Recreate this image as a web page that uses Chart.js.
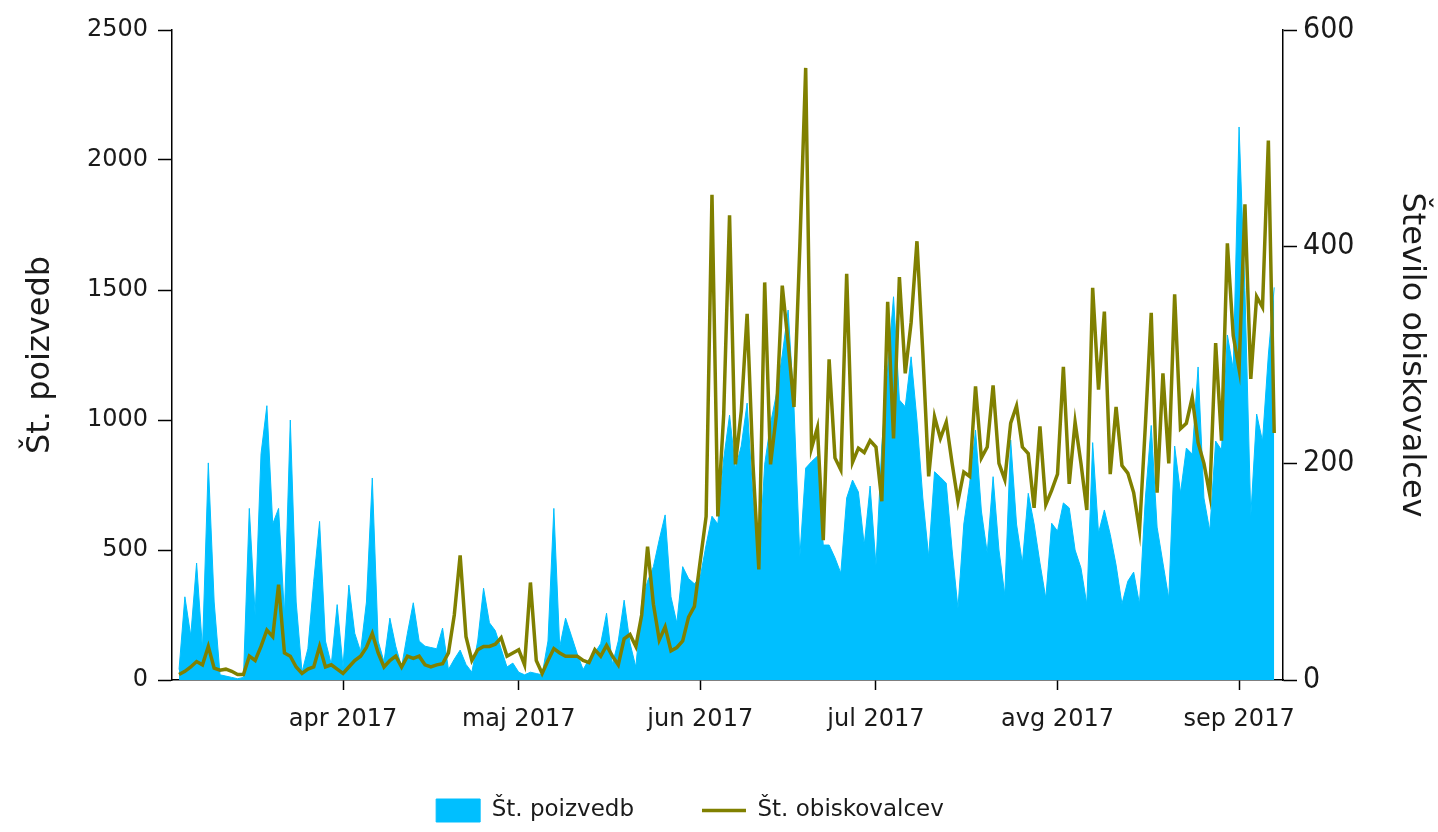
<!DOCTYPE html>
<html>
<head>
<meta charset="utf-8">
<script src="https://cdn.jsdelivr.net/npm/chart.js@4.4.0/dist/chart.umd.min.js"></script>
<style>
  html, body { margin: 0; padding: 0; background: #fff; }
</style>
</head>
<body>
<canvas id="chart" width="1438" height="832"></canvas>
<script>
// x values are days counted from 1 Mar 2017, data starts on 4 Mar 2017
var firstDay = 3;

// Št. poizvedb (left axis), one value per day
var poizvedbe = [
    40, 320, 170, 450, 120, 835, 300, 20, 15, 10,
    5, 10, 660, 250, 870, 1055, 600, 660, 250, 1000,
    300, 30, 120, 380, 610, 150, 60, 290, 50, 365,
    180, 110, 300, 777, 150, 70, 238, 130, 50, 180,
    297, 150, 130, 125, 120, 200, 40, 80, 115, 60,
    30, 150, 353, 220, 190, 120, 50, 65, 30, 20,
    30, 25, 20, 150, 660, 127, 238, 170, 100, 40,
    80, 104, 140, 257, 60, 150, 307, 142, 50, 300,
    380, 436, 540, 635, 320, 219, 436, 390, 370, 396,
    520, 630, 600, 850, 1019, 815, 900, 1065, 700, 442,
    830, 986, 1100, 1250, 1423, 1050, 473, 815, 840, 861,
    519, 519, 470, 411, 700, 769, 723, 519, 746, 442,
    900, 1200, 1474, 1077, 1051, 1243, 1000, 700, 474, 801,
    780, 757, 500, 276, 600, 757, 961, 650, 488, 782,
    500, 327, 923, 600, 449, 718, 600, 450, 314, 603,
    573, 681, 662, 500, 431, 292, 913, 565, 654, 560,
    442, 292, 380, 415, 292, 700, 979, 588, 450, 313,
    900, 719, 892, 869, 1204, 700, 573, 919, 885, 1327,
    1196, 2127, 1498, 631, 1023, 919, 1250, 1510
];

// Št. obiskovalcev (right axis), one value per day
var obiskovalci = [
    5, 8, 12, 17, 14, 31, 11, 9, 10, 8,
    5, 5, 22, 18, 31, 46, 40, 88, 25, 22,
    12, 6, 10, 12, 31, 12, 14, 10, 6, 12,
    18, 22, 30, 43, 25, 12, 18, 22, 12, 22,
    20, 22, 14, 12, 14, 15, 25, 60, 115, 40,
    18, 28, 31, 31, 33, 39, 22, 25, 28, 14,
    90, 18, 6, 18, 29, 25, 22, 22, 22, 18,
    16, 28, 22, 32, 22, 14, 38, 42, 31, 60,
    123, 70, 37, 49, 27, 30, 36, 58, 68, 110,
    151, 448, 151, 245, 429, 199, 248, 338, 199, 102,
    367, 199, 245, 364, 311, 252, 400, 565, 214, 233,
    129, 296, 205, 194, 375, 201, 214, 210, 221, 215,
    165, 349, 223, 372, 283, 330, 405, 302, 188, 243,
    223, 238, 200, 165, 192, 188, 271, 205, 215, 272,
    200, 185, 237, 253, 215, 209, 159, 234, 162, 175,
    190, 289, 181, 238, 200, 157, 362, 268, 340, 190,
    252, 198, 191, 173, 138, 235, 339, 173, 283, 200,
    356, 232, 237, 261, 219, 200, 171, 311, 221, 403,
    318, 287, 439, 278, 354, 344, 498, 228
];

// month ticks (first day of each month, same day count)
var monthTicks = [31, 61, 92, 122, 153, 184];
var monthLabels = ['apr 2017', 'maj 2017', 'jun 2017', 'jul 2017', 'avg 2017', 'sep 2017'];

var leftTicks = [0, 500, 1000, 1500, 2000, 2500];
var rightTicks = [0, 200, 400, 600];

var days = poizvedbe.map(function (v, i) { return firstDay + i; });

function points(values) {
    return values.map(function (v, i) { return { x: days[i], y: v }; });
}

Chart.defaults.font.family = 'DejaVu Sans';
Chart.defaults.color = '#1a1a1a';

// move the legend a bit to the left, like in the original
var legendShift = {
    id: 'legendShift',
    afterLayout: function (chart) {
        chart.legend.left -= 29;
        chart.legend.right -= 29;
    }
};

var ctx = document.getElementById('chart').getContext('2d');
var chart = new Chart(ctx, {
    type: 'line',
    data: {
        datasets: [{
            label: 'Št. poizvedb',
            data: points(poizvedbe),
            yAxisID: 'y',
            backgroundColor: '#00BFFF',
            borderColor: '#00BFFF',
            borderWidth: 1,
            fill: 'origin',
            pointRadius: 0,
            pointStyle: 'rect',
            tension: 0,
            order: 1
        }, {
            label: 'Št. obiskovalcev',
            data: points(obiskovalci),
            yAxisID: 'y1',
            backgroundColor: '#808000',
            borderColor: '#808000',
            borderWidth: 3.5,
            fill: false,
            pointRadius: 0,
            pointStyle: 'line',
            tension: 0,
            order: 0
        }]
    },
    options: {
        responsive: false,
        animation: false,
        devicePixelRatio: 1,
        layout: { padding: { top: 30, left: 0, right: 0, bottom: 0 } },
        plugins: {
            tooltip: { enabled: false },
            legend: {
                position: 'bottom',
                labels: {
                    usePointStyle: true,
                    pointStyleWidth: 44,
                    boxHeight: 23,
                    padding: 68,
                    font: { size: 23 },
                    sort: function (a, b) { return a.datasetIndex - b.datasetIndex; }
                }
            }
        },
        scales: {
            x: {
                type: 'linear',
                min: 1.8,
                max: 191.5,
                afterBuildTicks: function (scale) {
                    scale.ticks = monthTicks.map(function (v) { return { value: v }; });
                },
                afterFit: function (scale) { scale.height = 51; },
                ticks: {
                    autoSkip: false,
                    maxRotation: 0,
                    padding: 15,
                    font: { size: 24 },
                    callback: function (v) { return monthLabels[monthTicks.indexOf(v)]; }
                },
                grid: { drawOnChartArea: false, tickLength: 10, color: '#000', tickWidth: 1.5 },
                border: { color: '#000', width: 1.5 }
            },
            y: {
                position: 'left',
                min: 0,
                max: 2500,
                afterBuildTicks: function (scale) {
                    scale.ticks = leftTicks.map(function (v) { return { value: v }; });
                },
                afterFit: function (scale) { scale.width = 172; },
                ticks: {
                    padding: 10,
                    font: { size: 24 },
                    callback: function (v) { return String(v); }
                },
                grid: { drawOnChartArea: false, tickLength: 14, color: '#000', tickWidth: 1.5 },
                border: { color: '#000', width: 1.5 },
                title: {
                    display: true,
                    text: 'Št. poizvedb',
                    font: { size: 32 },
                    padding: { top: 21, bottom: 0 }
                }
            },
            y1: {
                position: 'right',
                min: 0,
                max: 600,
                afterBuildTicks: function (scale) {
                    scale.ticks = rightTicks.map(function (v) { return { value: v }; });
                },
                afterFit: function (scale) { scale.width = 155; },
                ticks: {
                    padding: 6,
                    font: { family: 'DejaVu Sans Condensed', size: 30 },
                    callback: function (v) { return String(v); }
                },
                grid: { drawOnChartArea: false, tickLength: 14, color: '#000', tickWidth: 1.5 },
                border: { color: '#000', width: 1.5 },
                title: {
                    display: true,
                    text: 'Število obiskovalcev',
                    font: { size: 32 },
                    padding: { top: 7, bottom: 0 }
                }
            }
        }
    },
    plugins: [legendShift]
});
</script>
</body>
</html>
